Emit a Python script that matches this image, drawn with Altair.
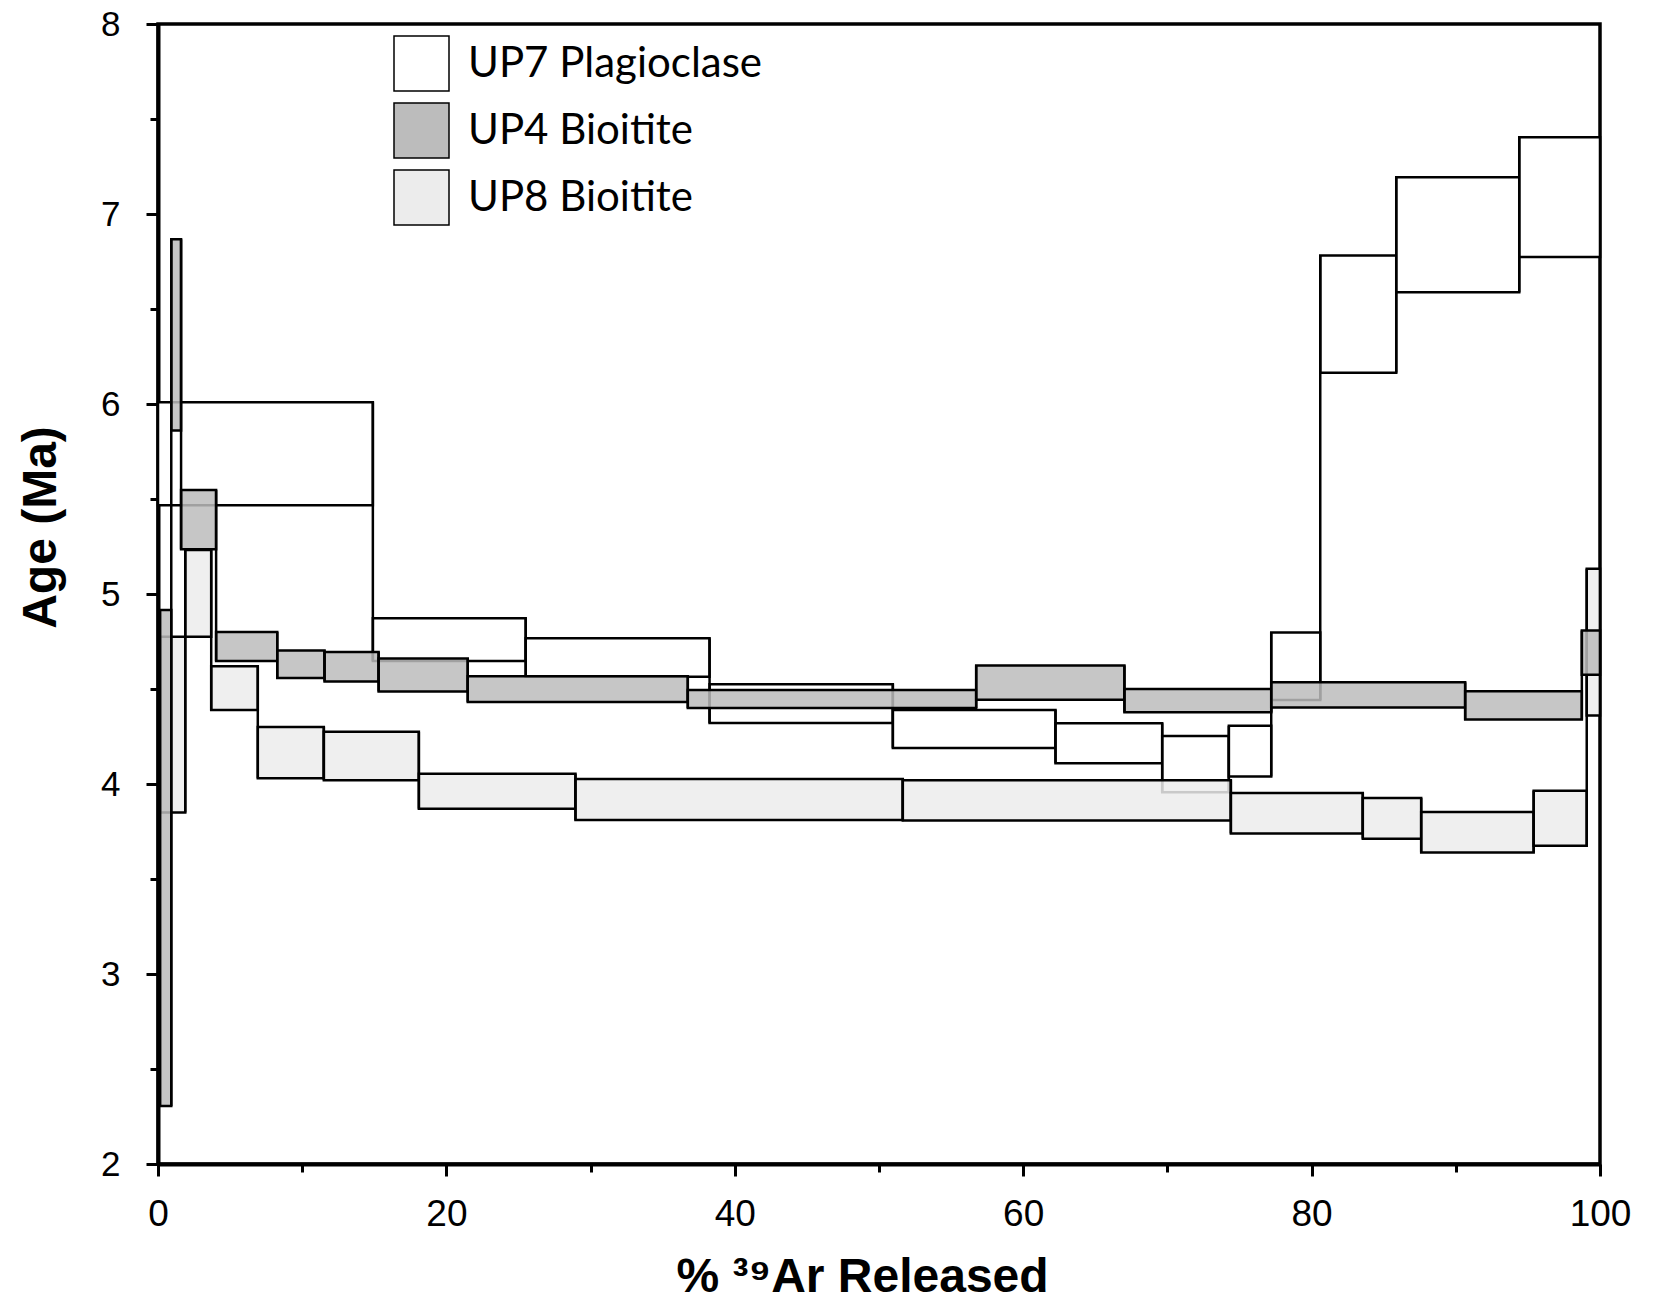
import altair as alt
import pandas as pd

samples = ["UP7 Plagioclase", "UP4 Bioitite", "UP8 Bioitite"]
fills = ["#ffffff", "#bcbcbc", "#ececec"]

# UP7 Plagioclase: cumulative % 39Ar step edges, age lower/upper bounds (Ma)
up7_edges = [0, 14.9, 25.5, 38.25, 50.96, 62.24, 69.64, 74.26, 77.2, 80.6, 85.87, 94.4, 100]
up7_lo = [5.467, 4.647, 4.565, 4.321, 4.19, 4.109, 3.957, 4.04, 4.442, 6.165, 6.588, 6.774]
up7_hi = [6.009, 4.872, 4.767, 4.525, 4.39, 4.32, 4.252, 4.306, 4.798, 6.781, 7.193, 7.404]

# UP4 Bioitite
up4_edges = [0.15, 0.92, 1.6, 4.03, 8.27, 11.55, 15.3, 21.48, 36.74, 56.74, 67.02, 77.2, 90.65, 98.74, 100]
up4_lo = [2.305, 5.86, 5.235, 4.647, 4.558, 4.54, 4.487, 4.432, 4.40, 4.443, 4.377, 4.403, 4.339, 4.575]
up4_hi = [4.916, 6.867, 5.547, 4.80, 4.703, 4.695, 4.66, 4.567, 4.495, 4.624, 4.50, 4.535, 4.488, 4.808]

# UP8 Bioitite
up8_edges = [0.15, 1.89, 3.69, 6.92, 11.5, 18.09, 28.95, 51.65, 74.4, 83.55, 87.6, 95.4, 99.08, 100]
up8_lo = [3.85, 4.775, 4.39, 4.03, 4.02, 3.87, 3.81, 3.808, 3.74, 3.712, 3.64, 3.675, 4.36]
up8_hi = [4.775, 5.232, 4.62, 4.30, 4.275, 4.054, 4.026, 4.02, 3.953, 3.926, 3.852, 3.965, 5.133]

x_ticks = [0, 10, 20, 30, 40, 50, 60, 70, 80, 90, 100]
y_ticks = [2, 2.5, 3, 3.5, 4, 4.5, 5, 5.5, 6, 6.5, 7, 7.5, 8]


def boxes(name, edges, lo, hi):
    return pd.DataFrame({"sample": name, "x0": edges[:-1], "x1": edges[1:], "lo": lo, "hi": hi})


def connectors(name, edges, lo, hi):
    rows = []
    for i in range(len(lo) - 1):
        rows.append({"sample": name, "x0": edges[i + 1],
                     "lo": min(lo[i], lo[i + 1]), "hi": max(hi[i], hi[i + 1])})
    return pd.DataFrame(rows)


FONT = "Liberation Sans"

x_axis = alt.Axis(
    values=x_ticks, title="% ³⁹Ar Released",
    labelExpr="datum.value % 20 === 0 ? format(datum.value, 'd') : ''",
    tickSize=alt.ExprRef("datum.value % 20 === 0 ? 12 : 8"),
    tickWidth=3, tickColor="black", domainColor="black", domainWidth=4,
    labelFont=FONT, labelFontSize=37, labelColor="black", labelPadding=20,
    labelFlush=False, labelOverlap=False,
    titleFont=FONT, titleFontSize=48, titleFontWeight="bold", titleColor="black",
    titleBaseline="alphabetic", titleY=127, titleX=704, grid=False,
)
y_axis = alt.Axis(
    values=y_ticks, title="Age (Ma)",
    labelExpr="datum.value % 1 === 0 ? format(datum.value, 'd') : ''",
    tickSize=alt.ExprRef("datum.value % 1 === 0 ? 12 : 8"),
    tickWidth=3, tickColor="black", domainColor="black", domainWidth=4,
    labelFont=FONT, labelFontSize=35, labelColor="black", labelPadding=26,
    labelFlush=False, labelOverlap=False,
    titleFont=FONT, titleFontSize=48, titleFontWeight="bold", titleColor="black",
    titleBaseline="alphabetic", titleX=-103, titleY=503, grid=False,
)

X = alt.X("x0:Q", scale=alt.Scale(domain=[0, 100], nice=False, zero=False), axis=x_axis)
X2 = alt.X2("x1:Q")
Y = alt.Y("lo:Q", scale=alt.Scale(domain=[2, 8], nice=False, zero=False), axis=y_axis)
Y2 = alt.Y2("hi:Q")
FILL = alt.Fill(
    "sample:N",
    scale=alt.Scale(domain=samples, range=fills),
    legend=alt.Legend(
        title=None, orient="none", legendX=235, legendY=11,
        symbolType="square", symbolSize=3025, symbolStrokeColor="black",
        symbolStrokeWidth=1.5, symbolOpacity=1, labelFont="Lato", labelFontSize=42,
        labelColor="black", labelOffset=18, rowPadding=6, padding=0, labelLimit=600,
    ),
)


def sample_layers(name, edges, lo, hi, opacity):
    rects = alt.Chart(boxes(name, edges, lo, hi)).mark_rect(
        stroke="black", strokeWidth=2.5, fillOpacity=opacity
    ).encode(x=X, x2=X2, y=Y, y2=Y2, fill=FILL)
    rules = alt.Chart(connectors(name, edges, lo, hi)).mark_rule(
        color="black", strokeWidth=2.5
    ).encode(x=X, y=Y, y2=Y2)
    return [rects, rules]


layers = (
    sample_layers(samples[0], up7_edges, up7_lo, up7_hi, 1.0)
    + sample_layers(samples[2], up8_edges, up8_lo, up8_hi, 0.85)
    + sample_layers(samples[1], up4_edges, up4_lo, up4_hi, 0.85)
)

chart = alt.layer(*layers).properties(
    width=1442, height=1140,
    autosize=alt.AutoSizeParams(type="none"),
    padding={"left": 158, "top": 24, "right": 56, "bottom": 137},
    background="white",
).configure_view(stroke="black", strokeWidth=3.5)

chart.save("out.html", embed_options={"renderer": "svg", "actions": False})
